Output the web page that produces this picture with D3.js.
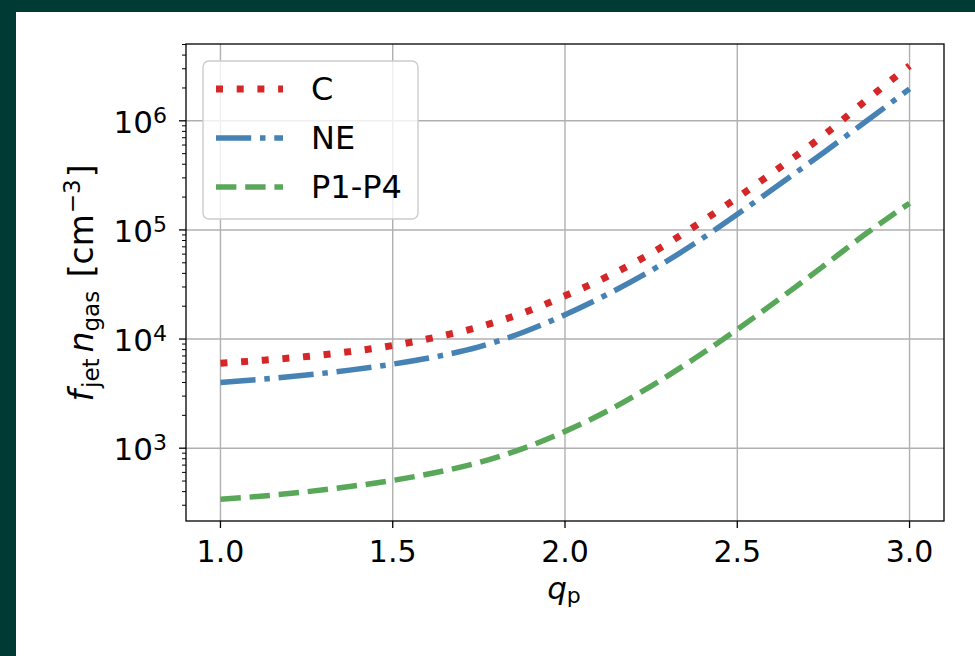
<html lang="en">
<head>
<style>
    body { margin: 0; background: #ffffff; }
    text { font-family: "DejaVu Sans", sans-serif; fill: #000; }
</style>
</head>
<body>
</body>
<script type='text/javascript' src='https://d3js.org/d3.v7.min.js'></script>
<script>
    // q_p sample points and the three curves
    var qp = [1.0, 1.125, 1.25, 1.375, 1.5, 1.625, 1.75, 1.875, 2.0, 2.125, 2.25, 2.375, 2.5, 2.625, 2.75, 2.875, 3.0];
    var valuesC = [6000, 6400, 6920, 7670, 8730, 10400, 12900, 17200, 24900, 37700, 61100, 107400, 197700, 376700, 734500, 1550000, 3200000];
    var valuesNE = [4000, 4300, 4680, 5190, 5890, 6890, 8470, 11430, 16710, 25880, 42460, 74650, 139000, 264900, 510500, 995400, 1963000];
    var valuesP = [340, 365, 399, 445, 507, 598, 740, 986, 1426, 2208, 3707, 6592, 12270, 23660, 46670, 93060, 176000];
    var seriesNames = ["C", "NE", "P1-P4"];
    var xTicks = [1.0, 1.5, 2.0, 2.5, 3.0];
    var yExponents = [3, 4, 5, 6];

    var width = 975, height = 656;
    var mLeft = 186, mRight = 944, mTop = 44, mBottom = 521;

    var svg = d3.select("body").append("svg")
        .attr("width", width)
        .attr("height", height);

    // dark frame on top and left
    svg.append("rect").attr("x", 0).attr("y", 0).attr("width", width).attr("height", 12).attr("fill", "#003a34");
    svg.append("rect").attr("x", 0).attr("y", 0).attr("width", 16).attr("height", height).attr("fill", "#003a34");

    var x = d3.scaleLinear().domain([0.9, 3.1]).range([mLeft, mRight]);

    // log axis with 5% margin like matplotlib
    var all = valuesC.concat(valuesNE, valuesP);
    var lo = Math.log10(d3.min(all)), hi = Math.log10(d3.max(all));
    var pad = 0.05 * (hi - lo);
    var y = d3.scaleLog().domain([Math.pow(10, lo - pad), Math.pow(10, hi + pad)]).range([mBottom, mTop]);

    // grid
    svg.append("g").selectAll("line").data(xTicks).enter().append("line")
        .attr("x1", function(d) { return x(d); }).attr("x2", function(d) { return x(d); })
        .attr("y1", mTop).attr("y2", mBottom)
        .attr("stroke", "#b0b0b0").attr("stroke-width", 1.4);
    svg.append("g").selectAll("line").data(yExponents).enter().append("line")
        .attr("x1", mLeft).attr("x2", mRight)
        .attr("y1", function(d) { return y(Math.pow(10, d)); }).attr("y2", function(d) { return y(Math.pow(10, d)); })
        .attr("stroke", "#b0b0b0").attr("stroke-width", 1.4);

    // curves
    var line = d3.line()
        .x(function(d) { return x(d[0]); })
        .y(function(d) { return y(d[1]); })
        .curve(d3.curveMonotoneX);

    var styles = [
        { color: "#d62728", w: 7, dash: "7,13.7" },
        { color: "#4682b4", w: 5.5, dash: "35.2,8.8,5.5,8.8" },
        { color: "#59a85a", w: 5.5, dash: "20.4,8.8" }
    ];
    var series = [valuesC, valuesNE, valuesP];

    var plot = svg.append("g");
    plot.append("clipPath").attr("id", "clip").append("rect")
        .attr("x", mLeft).attr("y", mTop).attr("width", mRight - mLeft).attr("height", mBottom - mTop);
    series.forEach(function(vals, i) {
        plot.append("path")
            .datum(d3.zip(qp, vals))
            .attr("clip-path", "url(#clip)")
            .attr("fill", "none")
            .attr("stroke", styles[i].color)
            .attr("stroke-width", styles[i].w)
            .attr("stroke-dasharray", styles[i].dash)
            .attr("stroke-linecap", "butt")
            .attr("d", line);
    });

    // spines
    svg.append("rect").attr("x", mLeft).attr("y", mTop).attr("width", mRight - mLeft).attr("height", mBottom - mTop)
        .attr("fill", "none").attr("stroke", "#000").attr("stroke-width", 1.3);

    // x ticks
    var xg = svg.append("g");
    xg.selectAll("line").data(xTicks).enter().append("line")
        .attr("x1", function(d) { return x(d); }).attr("x2", function(d) { return x(d); })
        .attr("y1", mBottom).attr("y2", mBottom + 7)
        .attr("stroke", "#000").attr("stroke-width", 1.3);
    xg.selectAll("text").data(xTicks).enter().append("text")
        .attr("x", function(d) { return x(d); })
        .attr("y", 562)
        .attr("text-anchor", "middle")
        .attr("font-size", 30)
        .text(function(d) { return d3.format(".1f")(d); });

    // y ticks (major + minor)
    var yg = svg.append("g");
    var minor = [];
    for (var e = 2; e <= 6; e++) {
        for (var k = 2; k <= 9; k++) {
            var v = k * Math.pow(10, e);
            if (v >= y.domain()[0] && v <= y.domain()[1]) minor.push(v);
        }
    }
    yg.selectAll("line.minor").data(minor).enter().append("line")
        .attr("class", "minor")
        .attr("x1", mLeft - 4).attr("x2", mLeft)
        .attr("y1", function(d) { return y(d); }).attr("y2", function(d) { return y(d); })
        .attr("stroke", "#000").attr("stroke-width", 1);
    yg.selectAll("line.major").data(yExponents).enter().append("line")
        .attr("class", "major")
        .attr("x1", mLeft - 7).attr("x2", mLeft)
        .attr("y1", function(d) { return y(Math.pow(10, d)); }).attr("y2", function(d) { return y(Math.pow(10, d)); })
        .attr("stroke", "#000").attr("stroke-width", 1.3);
    var yl = yg.selectAll("text").data(yExponents).enter().append("text")
        .attr("x", 167)
        .attr("y", function(d) { return y(Math.pow(10, d)) + 12; })
        .attr("text-anchor", "end")
        .attr("font-size", 31);
    yl.append("tspan").text("10");
    yl.append("tspan").attr("font-size", 22).attr("dy", -10).text(function(d) { return d; });

    // axis labels
    var xl = svg.append("text").attr("x", 564).attr("y", 599).attr("text-anchor", "middle").attr("font-size", 31);
    xl.append("tspan").attr("font-style", "italic").text("q");
    xl.append("tspan").attr("font-size", 22).attr("dy", 4).text("p");

    var ylab = svg.append("text")
        .attr("transform", "translate(93,283) rotate(-90)")
        .attr("text-anchor", "middle")
        .attr("font-size", 33);
    ylab.append("tspan").attr("font-style", "italic").text("f");
    ylab.append("tspan").attr("font-size", 23).attr("dy", 6).attr("dx", 2).text("jet");
    ylab.append("tspan").attr("font-style", "italic").attr("dy", -6).attr("dx", 6).text("n");
    ylab.append("tspan").attr("font-size", 23).attr("dy", 6).text("gas");
    ylab.append("tspan").attr("dy", -6).attr("dx", 3).text(" [cm");
    ylab.append("tspan").attr("font-size", 23).attr("dy", -13).attr("dx", 1).text("\u22123");
    ylab.append("tspan").attr("dy", 13).attr("dx", 2).text("]");

    // legend
    var lg = svg.append("g");
    lg.append("rect").attr("x", 203).attr("y", 61).attr("width", 215).attr("height", 158).attr("rx", 6)
        .attr("fill", "#ffffff").attr("fill-opacity", 0.8)
        .attr("stroke", "#cccccc").attr("stroke-width", 1.4);
    var rowY = [89, 138, 187];
    seriesNames.forEach(function(name, i) {
        lg.append("line")
            .attr("x1", 216).attr("x2", 283)
            .attr("y1", rowY[i]).attr("y2", rowY[i])
            .attr("stroke", styles[i].color)
            .attr("stroke-width", styles[i].w)
            .attr("stroke-dasharray", styles[i].dash);
        lg.append("text").attr("x", 311).attr("y", rowY[i] + 11)
            .attr("font-size", 32).text(name);
    });
</script>
</html>
